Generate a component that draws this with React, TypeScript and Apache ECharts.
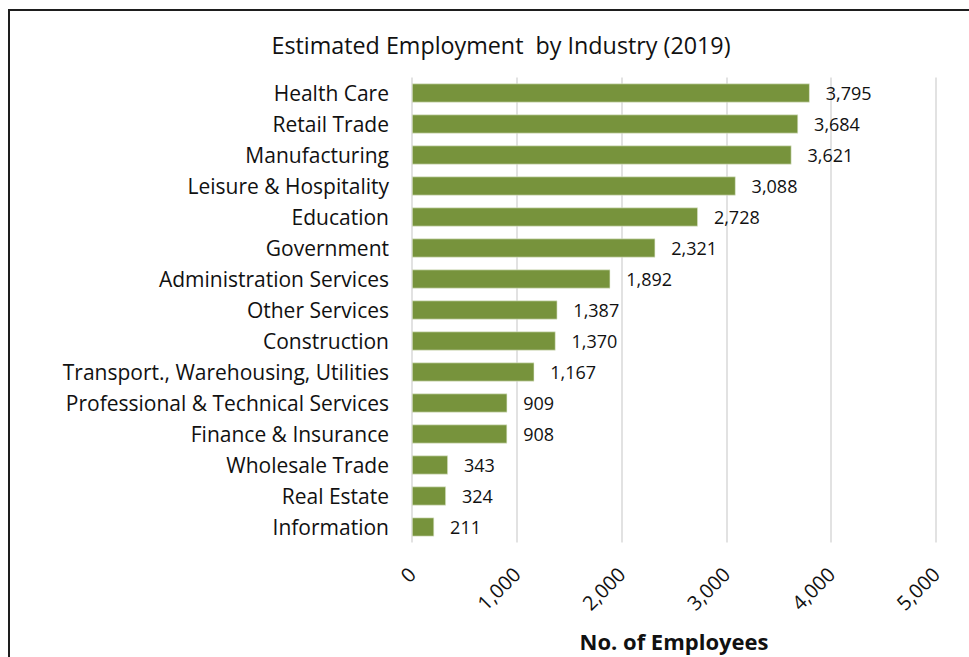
import React, { useEffect, useRef } from "react";
import * as echarts from "echarts";

const categories = [
  "Health Care",
  "Retail Trade",
  "Manufacturing",
  "Leisure & Hospitality",
  "Education",
  "Government",
  "Administration Services",
  "Other Services",
  "Construction",
  "Transport., Warehousing, Utilities",
  "Professional & Technical Services",
  "Finance & Insurance",
  "Wholesale Trade",
  "Real Estate",
  "Information",
];
const employees = [3795, 3684, 3621, 3088, 2728, 2321, 1892, 1387, 1370, 1167, 909, 908, 343, 324, 211];
const xTicks = [0, 1000, 2000, 3000, 4000, 5000];

const FONT = "'Open Sans', sans-serif";
const fmt = (v: number) => v.toLocaleString("en-US");

export default function App() {
  const ref = useRef<HTMLDivElement>(null);
  useEffect(() => {
    if (!ref.current) return;
    const chart = echarts.init(ref.current, undefined, { renderer: "svg" });
    chart.setOption({
      animation: false,
      backgroundColor: "#ffffff",
      title: {
        text: "Estimated Employment  by Industry (2019)",
        left: 496,
        top: 28,
        textAlign: "center",
        textStyle: { fontFamily: FONT, fontSize: 23.3, fontWeight: "normal", color: "#111111" },
      },
      graphic: [
        {
          type: "rect",
          shape: { x: 9, y: 10, width: 1000, height: 700 },
          style: { fill: "none", stroke: "#1e1e1e", lineWidth: 2 },
          silent: true,
        },
      ],
      grid: { left: 412, right: 33, top: 77.5, bottom: 114.5, containLabel: false, outerBoundsMode: "none" },
      xAxis: {
        type: "value",
        min: xTicks[0],
        max: xTicks[xTicks.length - 1],
        interval: 1000,
        name: "No. of Employees",
        nameLocation: "middle",
        nameGap: 87,
        nameTextStyle: { fontFamily: FONT, fontSize: 22, fontWeight: "bold", color: "#111111" },
        axisLine: { show: false },
        axisTick: { show: false },
        splitLine: { show: true, lineStyle: { color: "#d9d9d9", width: 1.5 } },
        axisLabel: {
          rotate: 45,
          margin: 28,
          fontFamily: FONT,
          fontSize: 20,
          color: "#111111",
          formatter: (v: number) => fmt(v),
        },
      },
      yAxis: {
        type: "category",
        data: categories,
        inverse: true,
        axisLine: { show: false },
        axisTick: { show: false },
        axisLabel: { margin: 23, fontFamily: FONT, fontSize: 21, color: "#111111" },
      },
      series: [
        {
          type: "bar",
          data: employees,
          barCategoryGap: "39%",
          itemStyle: { color: "#77933c", borderColor: "#e6ecd8", borderWidth: 0.6 },
          label: {
            show: true,
            position: "right",
            distance: 16,
            fontFamily: FONT,
            fontSize: 18,
            color: "#111111",
            formatter: (p: any) => fmt(p.value),
          },
        },
      ],
    });
    return () => chart.dispose();
  }, []);
  return <div ref={ref} style={{ position: "fixed", left: 0, top: 0, width: 969, height: 657 }} />;
}
